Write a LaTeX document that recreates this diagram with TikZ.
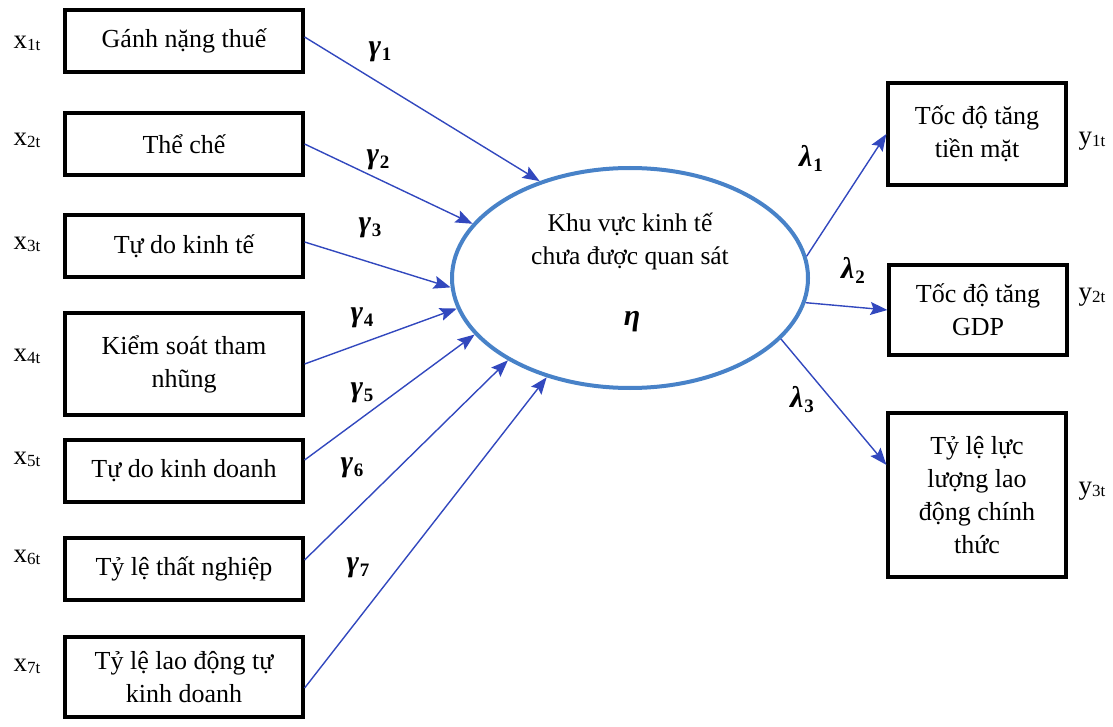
\documentclass[tikz,border=0pt]{standalone}
\usepackage{fontspec}
\setmainfont{Liberation Serif}
\usetikzlibrary{arrows.meta,shapes.geometric,calc}
\definecolor{arrowblue}{RGB}{50,72,190}
\definecolor{ellblue}{RGB}{72,130,200}
\newcommand{\coefsym}[2]{{\bfseries\itshape #1}\kern1pt{\bfseries\fontsize{19}{19}\selectfont\raisebox{-5pt}{#2}}}
\newcommand{\varsym}[2]{#1{\fontsize{17}{17}\selectfont\raisebox{-2pt}{#2}}}
\begin{document}
\begin{tikzpicture}[x=1pt,y=-1pt,
  box/.style={draw=black,line width=3.2pt,align=center,inner sep=0pt,font=\fontsize{26}{33}\selectfont},
  lbox/.style={box,minimum width=238pt},
  rbox/.style={box,minimum width=178pt},
  conn/.style={draw=arrowblue,line width=1.4pt,-{Stealth[length=17pt,width=13pt,inset=3pt]}},
  coef/.style={font=\fontsize{30}{32}\selectfont,inner sep=0pt},
  var/.style={font=\fontsize{27}{28}\selectfont,inner sep=0pt},
  etext/.style={align=center,font=\fontsize{25.5}{33}\selectfont}]
\useasboundingbox (0,0) rectangle (1113,727);
% left boxes
\node[lbox,minimum height=62pt] (b1) at (184,41) {Gánh nặng thuế};
\node[lbox,minimum height=62pt] (b2) at (184,144) {Thể chế};
\node[lbox,minimum height=62pt] (b3) at (184,246) {Tự do kinh tế};
\node[lbox,minimum height=102pt] (b4) at (184,364) {Kiểm soát tham\\nhũng};
\node[lbox,minimum height=62pt] (b5) at (184,471) {Tự do kinh doanh};
\node[lbox,minimum height=62pt] (b6) at (184,569) {Tỷ lệ thất nghiệp};
\node[lbox,minimum height=80pt] (b7) at (184,677) {Tỷ lệ lao động tự\\kinh doanh};
% x labels
\node[var] (x1) at (27,43) {\varsym{x}{1t}};
\node[var] (x2) at (27,140) {\varsym{x}{2t}};
\node[var] (x3) at (27,244) {\varsym{x}{3t}};
\node[var] (x4) at (27,356) {\varsym{x}{4t}};
\node[var] (x5) at (27,459) {\varsym{x}{5t}};
\node[var] (x6) at (27,557) {\varsym{x}{6t}};
\node[var] (x7) at (27,666) {\varsym{x}{7t}};
% ellipse
\node[ellipse,draw=ellblue,line width=4pt,minimum width=356pt,minimum height=220pt,inner sep=0pt] (E) at (630,278) {};
\node[etext] (et) at (630,241) {Khu vực kinh tế\\chưa được quan sát};
\node[coef] (eta) at (632,322) {\bfseries\itshape η};
% right boxes
\node[rbox,minimum height=102pt] (r1) at (977,134) {Tốc độ tăng\\tiền mặt};
\node[rbox,minimum height=90pt] (r2) at (978,310) {Tốc độ tăng\\GDP};
\node[rbox,minimum height=164pt] (r3) at (977,495) {Tỷ lệ lực\\lượng lao\\động chính\\thức};
% y labels
\node[var] (y1) at (1092,141) {\varsym{y}{1t}};
\node[var] (y2) at (1092,297) {\varsym{y}{2t}};
\node[var] (y3) at (1092,491) {\varsym{y}{3t}};
% arrows left
\draw[conn] ([yshift=4pt]b1.east) -- (E.133.5);
\draw[conn] (b2.east) -- (E.161.5);
\draw[conn] ([yshift=4pt]b3.east) -- (E.183.5);
\draw[conn] (b4.east) -- (E.190.7);
\draw[conn] ([yshift=11pt]b5.east) -- (E.200);
\draw[conn] ([yshift=9pt]b6.east) -- (E.214);
\draw[conn] ([yshift=-11pt]b7.east) -- (E.230);
% arrows right
\draw[conn] (E.7.4) -- (r1.west);
\draw[conn] (E.352) -- (r2.west);
\coordinate (r3in) at ($(r3.north west)!0.32!(r3.south west)$);
\draw[conn] (E.338.6) -- (r3in);
% coefficients
\node[coef] (g1) at (380,52) {\coefsym{γ}{1}};
\node[coef] (g2) at (378,160) {\coefsym{γ}{2}};
\node[coef] (g3) at (370,228) {\coefsym{γ}{3}};
\node[coef] (g4) at (362,318) {\coefsym{γ}{4}};
\node[coef] (g5) at (362,393) {\coefsym{γ}{5}};
\node[coef] (g6) at (352,468) {\coefsym{γ}{6}};
\node[coef] (g7) at (358,568) {\coefsym{γ}{7}};
\node[coef] (l1) at (811,158) {\coefsym{λ}{1}};
\node[coef] (l2) at (853,270) {\coefsym{λ}{2}};
\node[coef] (l3) at (802,400) {\coefsym{λ}{3}};
\end{tikzpicture}
\end{document}
